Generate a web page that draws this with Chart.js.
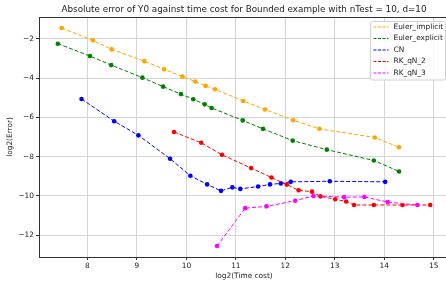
<!DOCTYPE html>
<html>
<head>
<meta charset="utf-8">
<script src="https://cdn.jsdelivr.net/npm/chart.js@4.4.0/dist/chart.umd.min.js"></script>
<style>
  html, body { margin: 0; padding: 0; background: #fff; overflow: hidden; }
  #wrap { width: 452px; height: 284px; }
</style>
</head>
<body>
<div id="wrap"><canvas id="errChart" width="452" height="284"></canvas></div>
<script>
// log2 values
const seriesNames = ['Euler_implicit', 'Euler_explicit', 'CN', 'RK_qN_2', 'RK_qN_3'];
const seriesColors = ['#ffa500', '#008000', '#0000ff', '#ff0000', '#ff00ff'];

const implicitTime = [7.48, 8.11, 8.49, 9.15, 9.55, 9.92, 10.18, 10.39, 10.58, 11.15, 11.59, 12.16, 12.69, 13.81, 14.30];
const implicitErr  = [-1.44, -2.07, -2.53, -3.13, -3.54, -3.92, -4.17, -4.39, -4.56, -5.16, -5.59, -6.14, -6.58, -7.02, -7.52];

const explicitTime = [7.40, 8.05, 8.48, 9.11, 9.53, 9.89, 10.14, 10.37, 10.51, 11.14, 11.55, 12.15, 12.84, 13.79, 14.30];
const explicitErr  = [-2.24, -2.87, -3.33, -3.97, -4.43, -4.81, -5.07, -5.33, -5.52, -6.15, -6.58, -7.18, -7.64, -8.19, -8.75];

const cnTime = [7.88, 8.54, 9.03, 9.67, 10.08, 10.42, 10.70, 10.93, 11.09, 11.45, 11.69, 11.91, 12.11, 12.90, 14.02];
const cnErr  = [-5.06, -6.19, -6.91, -8.10, -8.97, -9.41, -9.74, -9.56, -9.64, -9.52, -9.41, -9.36, -9.28, -9.25, -9.28];

const rk2Time = [9.75, 10.30, 10.72, 11.31, 11.72, 12.03, 12.27, 12.54, 12.71, 13.01, 13.23, 13.39, 13.79, 14.37, 14.93];
const rk2Err  = [-6.74, -7.29, -7.90, -8.58, -9.06, -9.42, -9.71, -9.78, -10.02, -10.17, -10.28, -10.46, -10.46, -10.46, -10.46];

const rk3Time = [10.62, 11.19, 11.62, 12.20, 12.57, 13.19, 13.60, 14.07, 14.67];
const rk3Err  = [-12.55, -10.62, -10.53, -10.24, -10.00, -10.06, -10.05, -10.31, -10.46];

const xTicks = [8, 9, 10, 11, 12, 13, 14, 15];
const yTicks = [-12, -10, -8, -6, -4, -2];

const allTimes = [implicitTime, explicitTime, cnTime, rk2Time, rk3Time];
const allErrs = [implicitErr, explicitErr, cnErr, rk2Err, rk3Err];

const FONT = 'DejaVu Sans';

function toPoints(xs, ys) {
  return xs.map((x, i) => ({ x: x, y: ys[i] }));
}

const datasets = seriesNames.map((name, i) => ({
  label: name,
  data: toPoints(allTimes[i], allErrs[i]),
  showLine: true,
  borderColor: seriesColors[i],
  backgroundColor: seriesColors[i],
  borderWidth: 1,
  borderDash: [4, 2],
  pointRadius: 2.3,
  pointBorderWidth: 0,
  pointHoverRadius: 2.3,
  order: seriesNames.length - i   // last series drawn on top, like matplotlib
}));

// frame on all four sides plus the matplotlib-style legend box
const framePlugin = {
  id: 'frame',
  afterDraw(chart) {
    const ctx = chart.ctx;
    const a = chart.chartArea;
    ctx.save();
    ctx.strokeStyle = '#333';
    ctx.lineWidth = 1;
    ctx.strokeRect(a.left + 0.5, a.top + 0.5, a.right - a.left, a.bottom - a.top);

    // legend
    const bx = 370.5, by = 21.5, bw = 75, bh = 58.5, r = 2;
    ctx.beginPath();
    ctx.moveTo(bx + r, by);
    ctx.arcTo(bx + bw, by, bx + bw, by + bh, r);
    ctx.arcTo(bx + bw, by + bh, bx, by + bh, r);
    ctx.arcTo(bx, by + bh, bx, by, r);
    ctx.arcTo(bx, by, bx + bw, by, r);
    ctx.closePath();
    ctx.fillStyle = 'rgba(255,255,255,0.85)';
    ctx.fill();
    ctx.strokeStyle = '#d0d0d0';
    ctx.stroke();

    ctx.font = '7.4px "' + FONT + '"';
    ctx.textBaseline = 'middle';
    ctx.textAlign = 'left';
    seriesNames.forEach((name, i) => {
      const yy = 27 + i * 11.5;
      ctx.strokeStyle = seriesColors[i];
      ctx.lineWidth = 1;
      ctx.setLineDash([3, 1.5]);
      ctx.beginPath();
      ctx.moveTo(373.5, yy);
      ctx.lineTo(388.5, yy);
      ctx.stroke();
      ctx.setLineDash([]);
      ctx.fillStyle = '#222';
      ctx.fillText(name, 393.5, yy);
    });
    ctx.restore();
  }
};

new Chart(document.getElementById('errChart'), {
  type: 'scatter',
  data: { datasets: datasets },
  plugins: [framePlugin],
  options: {
    responsive: false,
    animation: false,
    devicePixelRatio: 1,
    layout: { padding: { top: 0, right: 3, left: 0, bottom: 0 } },
    plugins: {
      legend: { display: false },
      tooltip: { enabled: false },
      title: {
        display: true,
        fullSize: false,
        text: 'Absolute error of Y0 against time cost for Bounded example with nTest = 10, d=10',
        color: '#222',
        font: { family: FONT, size: 8.8, weight: 'normal' },
        padding: { top: 4.2, bottom: 2.24 }
      }
    },
    scales: {
      x: {
        type: 'linear',
        min: 7.02,
        max: 15.31,
        afterFit(scale) { scale.height = 27; },
        afterBuildTicks(scale) { scale.ticks = xTicks.map(v => ({ value: v })); },
        ticks: {
          autoSkip: false,
          maxRotation: 0,
          padding: 2,
          color: '#222',
          font: { family: FONT, size: 7.4 },
          callback: v => String(v)
        },
        grid: { color: '#d4d4d4', tickColor: '#333', tickLength: 3 },
        border: { display: true, color: '#333' },
        title: {
          display: true,
          text: 'log2(Time cost)',
          color: '#222',
          font: { family: FONT, size: 7.4 },
          padding: { top: 0, bottom: 3.6 }
        }
      },
      y: {
        type: 'linear',
        min: -13.11,
        max: -0.88,
        afterFit(scale) { scale.width = 39; },
        afterBuildTicks(scale) { scale.ticks = yTicks.map(v => ({ value: v })); },
        ticks: {
          autoSkip: false,
          padding: 2,
          color: '#222',
          font: { family: FONT, size: 7.4 },
          callback: v => (v < 0 ? '\u2212' + Math.abs(v) : String(v))
        },
        grid: { color: '#d4d4d4', tickColor: '#333', tickLength: 3 },
        border: { display: true, color: '#333' },
        title: {
          display: true,
          text: 'log2(Error)',
          color: '#222',
          font: { family: FONT, size: 7.4 },
          padding: { top: 5.6, bottom: 0 }
        }
      }
    }
  }
});
</script>
</body>
</html>
